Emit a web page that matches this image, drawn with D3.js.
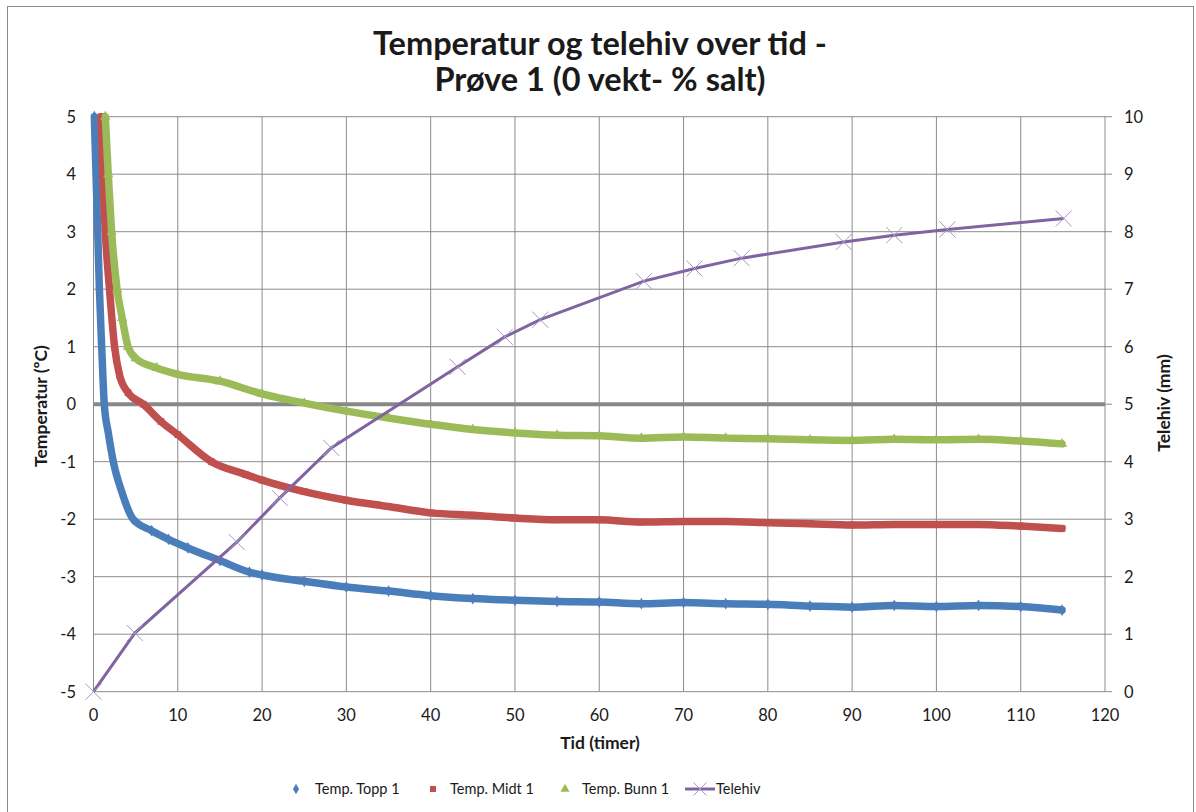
<!DOCTYPE html>
<html>
<head>
<meta charset="utf-8">
<script src="https://cdn.jsdelivr.net/npm/d3@7"></script>
<style>
  body { margin: 0; background: #fff; }
  text { font-family: Lato, "Open Sans", sans-serif; fill: #1a1a1a; }
</style>
</head>
<body>
<div id="chart"></div>
<script>
// Temperature series (hours, degC)
const toppHours = [0.1, 0.3, 0.5, 0.7, 0.97, 1.28, 1.76, 2.35, 3.3, 4.7, 6.9, 8.9, 11.2, 15, 18.5, 20, 25, 30, 35, 40, 45, 50, 55, 60, 65, 70, 75, 80, 85, 90, 95, 100, 105, 110, 114.9];
const toppTemp = [5, 4, 3, 2, 1, 0, -0.5, -1, -1.5, -2, -2.2, -2.35, -2.5, -2.72, -2.92, -2.97, -3.08, -3.18, -3.25, -3.33, -3.38, -3.41, -3.43, -3.44, -3.47, -3.45, -3.47, -3.48, -3.51, -3.53, -3.5, -3.52, -3.5, -3.52, -3.58];

const midtHours = [0.9, 1.1, 1.4, 1.9, 2.5, 3.1, 4.1, 5.9, 8, 10, 14, 18, 20, 25, 30, 35, 40, 45, 50, 55, 60, 65, 70, 75, 80, 85, 90, 95, 100, 105, 110, 114.9];
const midtTemp = [5, 4, 3, 2, 1, 0.5, 0.2, 0, -0.3, -0.53, -1, -1.22, -1.32, -1.52, -1.67, -1.78, -1.89, -1.93, -1.98, -2.01, -2.01, -2.05, -2.04, -2.04, -2.06, -2.08, -2.1, -2.09, -2.09, -2.09, -2.12, -2.16];

const bunnHours = [1.4, 1.75, 2.15, 2.8, 3.4, 4.1, 5, 7.5, 10, 15, 20, 25, 30, 35, 40, 45, 50, 55, 60, 65, 70, 75, 80, 85, 90, 95, 100, 105, 110, 114.9];
const bunnTemp = [5, 4, 3, 2, 1.5, 1.0, 0.8, 0.63, 0.52, 0.4, 0.18, 0.02, -0.12, -0.24, -0.35, -0.44, -0.5, -0.54, -0.55, -0.59, -0.57, -0.59, -0.6, -0.62, -0.63, -0.61, -0.62, -0.61, -0.64, -0.69];

// Frost heave (hours, mm)
const heaveHours = [0, 4.9, 17, 22.1, 28.2, 43.2, 48.8, 53, 65.3, 71.3, 76.9, 89, 95, 101.3, 115.1];
const heaveMm = [0, 1.02, 2.6, 3.37, 4.24, 5.65, 6.17, 6.47, 7.14, 7.36, 7.54, 7.82, 7.94, 8.04, 8.23];

const xTicks = d3.range(0, 121, 10);
const tempTicks = d3.range(-5, 6, 1);
const heaveTicks = d3.range(0, 11, 1);

const titleLines = ['Temperatur og telehiv over tid -', 'Prøve 1 (0 vekt- % salt)'];
const seriesNames = ['Temp. Topp 1', 'Temp. Midt 1', 'Temp. Bunn 1', 'Telehiv'];
const colors = ['#4A7EBB', '#C0504D', '#9BBB59', '#8064A2'];

const width = 1196, height = 812;
const plot = { left: 93.5, right: 1105, top: 116.7, bottom: 691.7 };

const svg = d3.select('#chart').append('svg')
    .attr('width', width)
    .attr('height', height);

svg.append('rect')
    .attr('width', width).attr('height', height)
    .attr('fill', '#fff');

// chart frame
svg.append('rect')
    .attr('x', 7.5).attr('y', 6.5)
    .attr('width', 1186).attr('height', 820)
    .attr('fill', 'none')
    .attr('stroke', '#8a8a8a');

const x = d3.scaleLinear().domain([0, 120]).range([plot.left, plot.right]);
const yT = d3.scaleLinear().domain([-5, 5]).range([plot.bottom, plot.top]);
const yH = d3.scaleLinear().domain([0, 10]).range([plot.bottom, plot.top]);

// Gridlines
const grid = svg.append('g').attr('stroke', '#8c8c8c').attr('stroke-width', 1);
grid.selectAll('.vg').data(xTicks).join('line')
    .attr('x1', d => x(d)).attr('x2', d => x(d))
    .attr('y1', plot.top).attr('y2', plot.bottom);
grid.selectAll('.hg').data(tempTicks).join('line')
    .attr('x1', plot.left).attr('x2', plot.right)
    .attr('y1', d => yT(d)).attr('y2', d => yT(d));

// Right axis tick marks
grid.selectAll('.rt').data(heaveTicks).join('line')
    .attr('x1', plot.right).attr('x2', plot.right + 7)
    .attr('y1', d => yH(d)).attr('y2', d => yH(d));

// zero axis line
svg.append('line')
    .attr('x1', plot.left).attr('x2', plot.right)
    .attr('y1', yT(0)).attr('y2', yT(0))
    .attr('stroke', '#888').attr('stroke-width', 4);

// Tick labels
svg.append('g').selectAll('text').data(tempTicks).join('text')
    .attr('x', 76).attr('y', d => yT(d))
    .attr('dy', '0.36em')
    .attr('text-anchor', 'end')
    .style('font-size', '16.5px')
    .text(d => d);

svg.append('g').selectAll('text').data(heaveTicks).join('text')
    .attr('x', 1124).attr('y', d => yH(d))
    .attr('dy', '0.36em')
    .style('font-size', '16.5px')
    .text(d => d);

svg.append('g').selectAll('text').data(xTicks).join('text')
    .attr('x', d => x(d)).attr('y', 721)
    .attr('text-anchor', 'middle')
    .style('font-size', '16.5px')
    .text(d => d);

// Axis titles
svg.append('text')
    .attr('x', 600).attr('y', 749)
    .attr('text-anchor', 'middle')
    .style('font-size', '17.5px').style('font-weight', 'bold')
    .text('Tid (timer)');

svg.append('text')
    .attr('transform', 'translate(47,406) rotate(-90)')
    .attr('text-anchor', 'middle')
    .style('font-size', '17.5px').style('font-weight', 'bold')
    .text('Temperatur (ºC)');

svg.append('text')
    .attr('transform', 'translate(1170,403) rotate(-90)')
    .attr('text-anchor', 'middle')
    .style('font-size', '17.5px').style('font-weight', 'bold')
    .text('Telehiv (mm)');

// Title
svg.append('g').selectAll('text').data(titleLines).join('text')
    .attr('x', 600).attr('y', (d, i) => 55 + i * 36)
    .attr('text-anchor', 'middle')
    .style('font-size', '32.5px').style('font-weight', 'bold')
    .text(d => d);

// Temperature series
const tempSeries = [
    { hours: toppHours, vals: toppTemp, symbol: d3.symbolDiamond, size: 40 },
    { hours: midtHours, vals: midtTemp, symbol: d3.symbolSquare, size: 45 },
    { hours: bunnHours, vals: bunnTemp, symbol: d3.symbolTriangle, size: 45 }
];

const line = d3.line()
    .x(d => x(d[0])).y(d => yT(d[1]))
    .curve(d3.curveMonotoneX);

tempSeries.forEach((s, i) => {
    const pts = s.hours.map((h, j) => [h, s.vals[j]]);
    svg.append('path')
        .datum(pts)
        .attr('d', line)
        .attr('fill', 'none')
        .attr('stroke', colors[i])
        .attr('stroke-width', 7.5)
        .attr('stroke-linejoin', 'round')
        .attr('stroke-linecap', 'round');
    svg.append('g').selectAll('path').data(pts).join('path')
        .attr('transform', d => `translate(${x(d[0])},${yT(d[1])})`)
        .attr('d', d3.symbol().type(s.symbol).size(s.size))
        .attr('fill', colors[i]);
});

// Telehiv series
const heavePts = heaveHours.map((h, j) => [h, heaveMm[j]]);
svg.append('path')
    .datum(heavePts)
    .attr('d', d3.line().x(d => x(d[0])).y(d => yH(d[1])))
    .attr('fill', 'none')
    .attr('stroke', colors[3])
    .attr('stroke-width', 3);

svg.append('g').selectAll('path').data(heavePts).join('path')
    .attr('transform', d => `translate(${x(d[0])},${yH(d[1])})`)
    .attr('d', d3.symbol().type(d3.symbolX).size(170))
    .attr('fill', 'none')
    .attr('stroke', '#a697c2')
    .attr('stroke-width', 1);

// Legend
const legendY = 789;
const legendMarkX = [296, 433, 565, 700];
const legendTextX = [315, 450, 582, 716];
const legend = svg.append('g');
tempSeries.forEach((s, i) => {
    legend.append('path')
        .attr('transform', `translate(${legendMarkX[i]},${legendY})`)
        .attr('d', d3.symbol().type(s.symbol).size(s.size * 0.8))
        .attr('fill', colors[i]);
});
legend.append('line')
    .attr('x1', 685).attr('x2', 715)
    .attr('y1', legendY).attr('y2', legendY)
    .attr('stroke', colors[3]).attr('stroke-width', 3);
legend.append('path')
    .attr('transform', `translate(${legendMarkX[3]},${legendY})`)
    .attr('d', d3.symbol().type(d3.symbolX).size(110))
    .attr('fill', 'none')
    .attr('stroke', '#a697c2');
legend.selectAll('text').data(seriesNames).join('text')
    .attr('x', (d, i) => legendTextX[i])
    .attr('y', legendY)
    .attr('dy', '0.36em')
    .style('font-size', '14.5px')
    .text(d => d);
</script>
</body>
</html>
